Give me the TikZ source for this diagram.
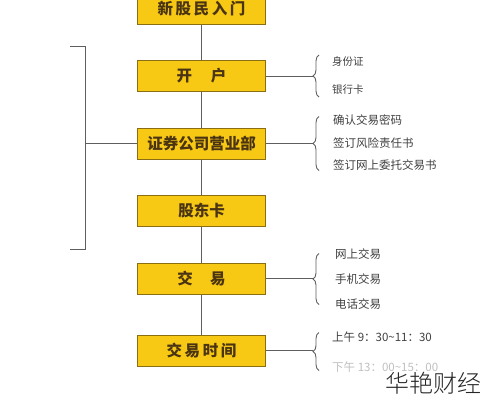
\documentclass[tikz,border=0pt]{standalone}
\usepackage{fontspec}
\setmainfont{Noto Sans CJK SC}
\newfontfamily\thinfont{Noto Sans CJK SC Light}
\usetikzlibrary{positioning,calc,decorations.pathreplacing}

\definecolor{boxyellow}{HTML}{F7C814}
\definecolor{boxedge}{HTML}{8C6E12}
\definecolor{boxtext}{HTML}{4A3412}
\definecolor{linegray}{HTML}{5E5E5E}

\begin{document}
\begin{tikzpicture}[
    x=1pt, y=1pt,
    node distance = 35.5pt,
    stage/.style   = {rectangle, draw=boxedge, fill=boxyellow, line width=1pt,
                      minimum width=128pt, minimum height=31pt,
                      font=\fontsize{15.5}{17}\selectfont\bfseries, text=boxtext},
    item/.style    = {font=\fontsize{11.5}{13}\selectfont, text=black!75,
                      anchor=west, inner sep=0pt},
    smallitem/.style = {item, font=\fontsize{10.5}{12}\selectfont},
    link/.style    = {draw=linegray, line width=0.9pt},
    curly/.style   = {link, decorate, decoration={brace, amplitude=6pt}}
]
\useasboundingbox (0,0) rectangle (489,-400);
\clip (0,0) rectangle (489,-400);

% Main steps
\node[stage] (newbie) at (201.5,-8.5) {新\,股\,民\,入\,门};
\node[stage, below=of newbie] (open)   {开\hspace{1.2em}户};
\node[stage, below=of open]   (office) {证券公司营业部};
\node[stage, below=of office] (card)   {股东卡};
\node[stage, below=of card]   (trade)  {交\hspace{1.1em}易};
\node[stage, below=40pt of trade] (hours) {交\,易\,时\,间};

% Trunk
\draw[link] (newbie) -- (open);
\draw[link] (open)   -- (office);
\draw[link] (office) -- (card);
\draw[link] (card)   -- (trade);
\draw[link] (trade)  -- (hours);

% Left bracket
\coordinate (brtop) at ($(open.north west)+(-52,14)$);
\coordinate (brbot) at ($(card.south west)+(-52,-22)$);
\draw[link] ($(brtop)+(-15,0)$) -- (brtop) -- (brbot) -- ($(brbot)+(-15,0)$);
\draw[link] (office.west) -- (office.west -| brtop);

% Open account
\coordinate (openbr) at ($(open.east)+(47,0)$);
\draw[link] (open.east) -- (openbr);
\draw[curly] ($(openbr)+(6,-21)$) -- ($(openbr)+(6,21)$);
\node[smallitem] (idcard)   at ($(openbr)+(19,14)$)  {身份证};
\node[smallitem] (bankcard) at ($(openbr)+(19,-14)$) {银行卡};

% Brokerage office
\coordinate (officebr) at ($(office.east)+(47,0)$);
\draw[link] (office.east) -- (officebr);
\draw[curly] ($(officebr)+(6,-27)$) -- ($(officebr)+(6,27)$);
\node[item] (pwd)   at ($(officebr)+(20,23)$)  {确认交易密码};
\node[item] (risk)  at ($(officebr)+(20,0)$)   {签订风险责任书};
\node[item] (proxy) at ($(officebr)+(20,-22)$) {签订网上委托交易书};

% Trading channels
\coordinate (tradebr) at ($(trade.east)+(47,0)$);
\draw[link] (trade.east) -- (tradebr);
\draw[curly] ($(tradebr)+(6,-26)$) -- ($(tradebr)+(6,25)$);
\node[item] (web)   at ($(tradebr)+(22,24)$)  {网上交易};
\node[item] (phone) at ($(tradebr)+(22,-1)$)  {手机交易};
\node[item] (tel)   at ($(tradebr)+(22,-26)$) {电话交易};

% Trading hours
\coordinate (hoursbr) at ($(hours.east)+(47,0)$);
\draw[link] (hours.east) -- (hoursbr);
\draw[curly] ($(hoursbr)+(6,-20)$) -- ($(hoursbr)+(6,18)$);
\node[item] (am) at ($(hoursbr)+(19,13)$)  {上午 9：30\textasciitilde 11：30};
\node[item, text=black!25] (pm) at ($(hoursbr)+(19,-17)$) {下午 13：00\textasciitilde 15：00};

% Watermark
\node[font=\thinfont\fontsize{24}{26}\selectfont, text=black!85, inner sep=0pt] (mark) at (433,-383) {华艳财经};
\end{tikzpicture}
\end{document}
